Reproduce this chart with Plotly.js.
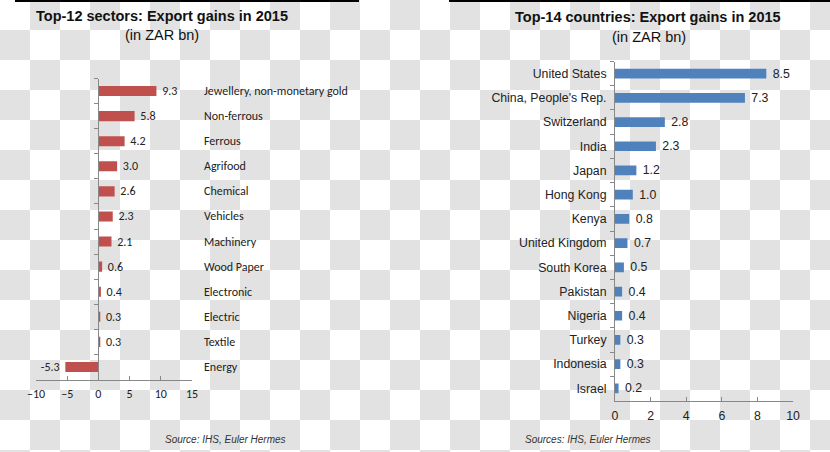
<!DOCTYPE html>
<html>
<head>
<meta charset="utf-8">
<script src="https://cdn.plot.ly/plotly-3.0.1.min.js"></script>
<style>
  html, body { margin: 0; padding: 0; }
  body {
    width: 830px; height: 452px; overflow: hidden;
    background: repeating-conic-gradient(#e2e2e2 0% 25%, #ffffff 0% 50%) 0 0 / 60px 60px;
  }
  #chart { width: 830px; height: 452px; }
</style>
</head>
<body>
<div id="chart"></div>
<script>
// ---- Data ----
const sectorNames = ["Jewellery, non-monetary gold", "Non-ferrous", "Ferrous", "Agrifood", "Chemical",
  "Vehicles", "Machinery", "Wood Paper", "Electronic", "Electric", "Textile", "Energy"];
const sectorGains = [9.3, 5.8, 4.2, 3.0, 2.6, 2.3, 2.1, 0.6, 0.4, 0.3, 0.3, -5.3];
const sectorTicks = [-10, -5, 0, 5, 10, 15];

const countryNames = ["United States", "China, People's Rep.", "Switzerland", "India", "Japan", "Hong Kong",
  "Kenya", "United Kingdom", "South Korea", "Pakistan", "Nigeria", "Turkey", "Indonesia", "Israel"];
const countryGains = [8.5, 7.3, 2.8, 2.3, 1.2, 1.0, 0.8, 0.7, 0.5, 0.4, 0.4, 0.3, 0.3, 0.2];
const countryTicks = [0, 2, 4, 6, 8, 10];

// ---- Layout helpers ----
const W = 830, H = 452;
const px = v => v / W;
const py = v => 1 - v / H;

const calib = "Carlito, Lato, 'Open Sans', sans-serif";
const arial = "'Liberation Sans', Arial, sans-serif";
const narrow = "'Liberation Sans Narrow', 'Arial Narrow', 'Liberation Sans', sans-serif";
const NB = '\u00a0';
const labelTpl = vals => vals.map(v => v >= 0 ? NB + '%{x:.1f}' : '%{x:.1f}' + NB);

const xL = [px(36), px(192)];
const xLrange = [-10, 15];
const zeroPos = xL[0] + (0 - xLrange[0]) / (xLrange[1] - xLrange[0]) * (xL[1] - xL[0]);

const traces = [
  {
    type: 'bar', orientation: 'h',
    x: sectorGains, y: sectorNames,
    xaxis: 'x', yaxis: 'y',
    marker: { color: '#c0504d' },
    texttemplate: labelTpl(sectorGains), textposition: 'outside', constraintext: 'none', cliponaxis: false,
    textfont: { family: calib, size: 12, color: '#222' },
    hoverinfo: 'skip'
  },
  {
    type: 'bar', orientation: 'h',
    x: countryGains, y: countryNames,
    xaxis: 'x2', yaxis: 'y2',
    marker: { color: '#4f81bd' },
    texttemplate: labelTpl(countryGains), textposition: 'outside', constraintext: 'none', cliponaxis: false,
    textfont: { family: arial, size: 12.3, color: '#222' },
    hoverinfo: 'skip'
  }
];

const annotations = [
  { text: '<b>Top-12 sectors: Export gains in 2015</b>', x: px(161.5), y: py(16), xref: 'paper', yref: 'paper',
    showarrow: false, xanchor: 'center', yanchor: 'middle', font: { family: arial, size: 14.5, color: '#111' } },
  { text: '(in ZAR bn)', x: px(161.5), y: py(35.5), xref: 'paper', yref: 'paper',
    showarrow: false, xanchor: 'center', yanchor: 'middle', font: { family: arial, size: 14.5, color: '#111' } },
  { text: '<b>Top-14 countries: Export gains in 2015</b>', x: px(647.5), y: py(17), xref: 'paper', yref: 'paper',
    showarrow: false, xanchor: 'center', yanchor: 'middle', font: { family: arial, size: 14.5, color: '#111' } },
  { text: '(in ZAR bn)', x: px(649), y: py(36.5), xref: 'paper', yref: 'paper',
    showarrow: false, xanchor: 'center', yanchor: 'middle', font: { family: arial, size: 14.5, color: '#111' } },
  { text: '<i>Source: IHS, Euler Hermes</i>', x: px(225), y: py(439), xref: 'paper', yref: 'paper',
    showarrow: false, xanchor: 'center', yanchor: 'middle', font: { family: narrow, size: 10, color: '#333' } },
  { text: '<i>Sources: IHS, Euler Hermes</i>', x: px(588), y: py(439), xref: 'paper', yref: 'paper',
    showarrow: false, xanchor: 'center', yanchor: 'middle', font: { family: narrow, size: 10, color: '#333' } }
];
// right-side category labels for the sectors chart
sectorNames.forEach(n => annotations.push({
  text: n, x: px(202), y: n, xref: 'paper', yref: 'y', showarrow: false,
  xanchor: 'left', yanchor: 'middle', font: { family: calib, size: 12, color: '#222' }
}));

const layout = {
  width: W, height: H,
  margin: { l: 0, r: 0, t: 0, b: 0, pad: 0 },
  paper_bgcolor: 'rgba(0,0,0,0)', plot_bgcolor: 'rgba(0,0,0,0)',
  showlegend: false,
  bargap: 0.6,
  xaxis: {
    domain: xL, range: xLrange, anchor: 'y',
    tickvals: sectorTicks, ticks: 'inside', ticklen: 4, tickcolor: '#888',
    showline: true, linecolor: '#888', linewidth: 1,
    showgrid: false, zeroline: false, fixedrange: true,
    tickfont: { family: calib, size: 12, color: '#222' }, ticklabelstandoff: 3
  },
  yaxis: {
    domain: [py(379.5), py(78.5)], type: 'category', autorange: 'reversed',
    anchor: 'free', position: zeroPos,
    showline: true, linecolor: '#888', linewidth: 1,
    ticks: 'outside', ticklen: 4, tickcolor: '#888', tickson: 'boundaries',
    showticklabels: false, showgrid: false, zeroline: false, fixedrange: true
  },
  xaxis2: {
    domain: [px(615), px(793)], range: [0, 10], anchor: 'y2',
    tickvals: countryTicks, ticks: 'inside', ticklen: 4, tickcolor: '#888',
    showline: true, linecolor: '#888', linewidth: 1,
    showgrid: false, zeroline: false, fixedrange: true,
    tickfont: { family: arial, size: 12.3, color: '#222' }, ticklabelstandoff: 4
  },
  yaxis2: {
    domain: [py(400.5), py(61.5)], type: 'category', autorange: 'reversed', anchor: 'x2',
    showline: true, linecolor: '#888', linewidth: 1,
    ticks: 'outside', ticklen: 4, tickcolor: '#888', tickson: 'boundaries',
    showgrid: false, zeroline: false, fixedrange: true,
    tickfont: { family: arial, size: 12.3, color: '#222' }, ticklabelstandoff: 5
  },
  shapes: [
    { type: 'rect', xref: 'paper', yref: 'paper', x0: px(15), x1: px(359), y0: py(2), y1: 1,
      fillcolor: '#000', line: { width: 0 } },
    { type: 'rect', xref: 'paper', yref: 'paper', x0: px(449), x1: 1, y0: py(2), y1: 1,
      fillcolor: '#000', line: { width: 0 } }
  ],
  annotations: annotations
};

Plotly.newPlot('chart', traces, layout, { staticPlot: true, displayModeBar: false });
</script>
</body>
</html>
